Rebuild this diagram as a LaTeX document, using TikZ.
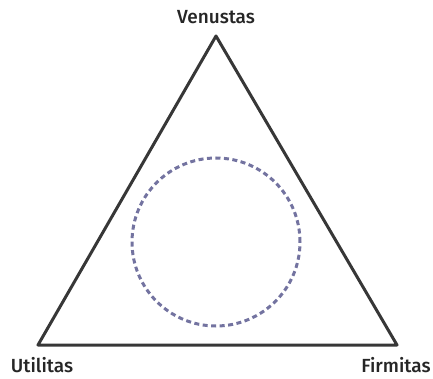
\documentclass[tikz,border=0pt]{standalone}
\usepackage{fontspec}
\setmainfont{Fira Sans}[UprightFont={* Medium}]
\definecolor{triline}{RGB}{55,55,55}
\definecolor{circline}{RGB}{115,115,160}
\tikzset{
  lbl/.style={font=\fontsize{19}{22}\selectfont, text=black!85, inner sep=0pt},
  tri/.style={draw=triline, line width=3pt, line join=round},
  ring/.style={draw=circline, line width=3pt, dash pattern=on 5pt off 3.5pt},
}
\begin{document}
\begin{tikzpicture}[x=1pt,y=-1pt]
\useasboundingbox (0,0) rectangle (433,379);
\coordinate (top) at (216,36);
\coordinate (bl) at (38,345);
\coordinate (br) at (397,345);
\draw[tri] (top) -- (bl) -- (br) -- cycle;
\node[ring, circle, minimum size=168pt, inner sep=0pt] (c) at (216,242) {};
\node[lbl] (v) at (216,17) {Venustas};
\node[lbl] (u) at (42,365) {Utilitas};
\node[lbl] (f) at (396,365) {Firmitas};
\end{tikzpicture}
\end{document}
